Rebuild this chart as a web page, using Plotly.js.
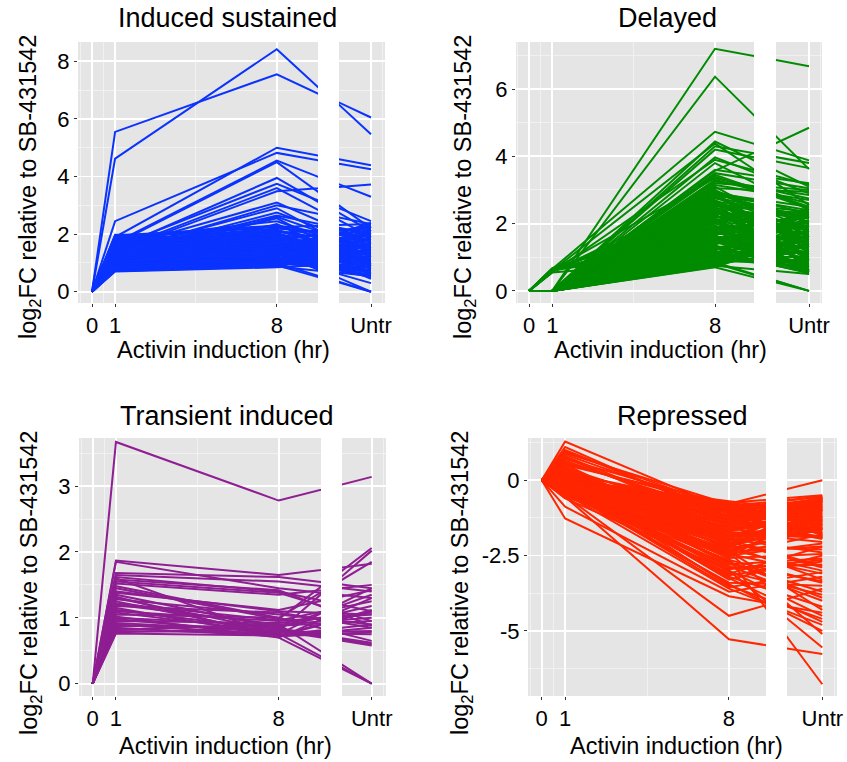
<!DOCTYPE html>
<html>
<head>
<meta charset="utf-8">
<script src="https://cdn.plot.ly/plotly-3.0.1.min.js"></script>
<style>
  html, body { margin: 0; padding: 0; background: #ffffff; }
  #chart { width: 847px; height: 762px; }
</style>
</head>
<body>
<div id="chart"></div>
<script>
// log2 fold change relative to SB-431542 at 0 h (always 0), 1 h, 8 h of Activin, and untreated
const TIME_TICKS = [0, 1, 8];
const TIME_LABELS = ['0', '1', '8'];
const UNTR_X = 12;
const UNTR_LABEL = 'Untr';

// Induced sustained
const sustainedH1 = [
  5.55, 4.62, 2.45, 1.90, 1.70, 1.65, 1.50, 1.55, 1.45, 1.40,
  1.50, 1.35, 1.40, 1.30, 1.25, 1.20, 1.80, 1.00, 1.10, 0.72,
  0.75, 0.78, 0.80, 0.82, 0.85, 0.88, 0.90, 0.92, 0.95, 0.97,
  1.00, 1.02, 1.05, 1.08, 1.10, 1.12, 1.15, 1.18, 1.20, 1.22,
  1.25, 1.28, 1.30, 1.32, 1.35, 1.38, 1.40, 1.42, 1.45, 1.48,
  1.50, 1.52, 1.55, 1.58, 1.60, 1.62, 1.65, 1.70, 1.75, 1.80,
  1.85, 1.90, 1.95, 1.98, 0.70, 0.74, 0.86, 0.94, 1.06, 1.14,
  1.26, 1.34, 1.44, 1.56, 1.64, 1.72, 1.82, 1.92,
  0.76, 0.84, 0.90, 0.98, 1.04, 1.12, 1.16, 1.24, 1.30, 1.36,
  1.46, 1.54, 1.60, 1.68, 1.78, 1.88, 0.80, 0.88, 1.00, 1.10
];
const sustainedH8 = [
  7.55, 8.42, 4.82, 5.00, 4.55, 4.50, 3.95, 3.75, 3.60, 3.49,
  3.10, 3.00, 2.90, 2.75, 2.65, 2.55, 2.45, 2.35, 2.60, 0.88,
  0.92, 0.95, 1.00, 0.90, 1.05, 1.10, 0.98, 1.15, 1.20, 1.00,
  1.25, 1.30, 1.12, 1.35, 1.40, 1.18, 1.45, 1.50, 1.28, 1.55,
  1.60, 1.38, 1.65, 1.70, 1.48, 1.75, 1.58, 1.80, 1.85, 1.62,
  1.90, 1.95, 1.72, 2.00, 2.05, 1.82, 2.10, 2.15, 2.20, 1.92,
  2.25, 2.28, 2.30, 2.05, 0.85, 1.08, 1.22, 1.32, 1.42, 0.96,
  1.16, 1.26, 1.52, 1.36, 1.46, 1.66, 1.76, 1.86,
  1.02, 1.14, 1.24, 1.06, 1.34, 1.44, 1.02, 1.54, 1.20, 1.64,
  1.74, 1.84, 1.28, 1.94, 2.12, 1.40, 1.30, 0.94, 1.70, 2.00
];
const sustainedUntr = [
  6.05, 5.47, 4.25, 4.39, 3.30, 2.20, 2.10, 2.45, 1.90, 3.72,
  1.70, 2.35, 1.20, 1.60, 2.00, 0.90, 1.40, 0.90, 1.50, 0.55,
  0.00, 1.10, 0.70, 1.50, 0.60, 1.90, 0.85, 1.30, 0.50, 0.00,
  1.70, 0.95, 2.10, 1.20, 0.65, 1.45, 2.25, 1.00, 0.75, 1.60,
  1.35, 0.00, 1.85, 1.10, 0.90, 2.30, 1.55, 0.80, 1.25, 2.00,
  1.45, 0.60, 1.75, 1.05, 2.20, 0.45, 1.65, 1.30, 1.90, 1.15,
  2.35, 1.50, 1.80, 0.95, 1.00, 1.40, 0.30, 2.40, 1.05, 1.70,
  0.55, 2.05, 1.20, 0.85, 1.60, 2.15, 0.70, 1.35,
  1.85, 0.75, 2.15, 1.40, 0.55, 1.95, 1.15, 2.30, 0.65, 1.50,
  1.00, 2.10, 1.80, 0.80, 1.25, 2.00, 1.65, 1.20, 0.95, 1.55
];

// Delayed
const delayedH1 = [
  0, 0, 0.65, 0, 0.60, 0, 0, 0.55, 0, 0,
  0, 0.62, 0, 0, 0, 0, 0, 0, 0, 0,
  0, 0, 0, 0, 0, 0, 0, 0, 0, 0,
  0, 0, 0, 0, 0, 0, 0, 0, 0, 0,
  0, 0, 0, 0, 0, 0, 0, 0, 0, 0,
  0, 0, 0, 0, 0, 0, 0, 0, 0, 0,
  0, 0, 0, 0.65, 0.60, 0.68, 0.55, 0.62, 0.66, 0.58,
  0.64, 0, 0, 0, 0, 0, 0, 0, 0, 0,
  0, 0, 0, 0,
  0, 0, 0, 0, 0, 0, 0, 0, 0, 0,
  0, 0, 0, 0, 0, 0, 0, 0, 0, 0,
  0, 0, 0, 0, 0, 0, 0, 0, 0, 0,
  0.60, 0.65, 0.60, 0.58, 0, 0, 0, 0, 0, 0
];
const delayedH8 = [
  7.20, 6.37, 4.73, 4.44, 4.38, 4.30, 3.97, 3.90, 3.57, 3.50,
  3.40, 3.35, 3.30, 3.20, 3.10, 3.05, 0.70, 0.75, 0.80, 0.85,
  0.90, 0.95, 1.00, 1.05, 1.10, 1.15, 1.20, 1.25, 1.30, 1.35,
  1.40, 1.45, 1.50, 1.55, 1.60, 1.65, 1.70, 1.75, 1.80, 1.85,
  1.90, 1.95, 2.00, 2.05, 2.10, 2.15, 2.20, 2.25, 2.30, 2.35,
  2.40, 2.45, 2.50, 2.55, 2.60, 2.65, 2.70, 2.75, 2.80, 2.85,
  2.90, 2.95, 3.00, 1.30, 1.90, 2.20, 0.95, 2.60, 1.60, 2.90,
  1.10, 0.72, 0.78, 0.88, 1.02, 1.18, 1.38, 1.62, 1.88, 2.12,
  2.38, 2.62, 2.88, 0.82,
  0.74, 0.83, 0.93, 1.08, 1.22, 1.33, 1.42, 1.52, 1.58, 1.68,
  1.78, 1.83, 1.93, 2.02, 2.08, 2.18, 2.28, 2.33, 2.43, 2.52,
  2.58, 2.68, 2.78, 2.83, 2.93, 2.98, 1.12, 0.98, 0.86, 1.72,
  2.40, 1.75, 1.45, 2.05, 3.15, 3.25, 3.45, 3.60, 3.80, 4.20
];
const delayedUntr = [
  6.68, 3.62, 3.88, 3.10, 2.55, 3.80, 2.90, 3.15, 4.85, 3.05,
  2.45, 2.75, 2.60, 3.00, 1.60, 2.95, 0.00, 0.50, 1.20, 0.00,
  1.80, 0.70, 2.20, 1.00, 0.55, 1.50, 2.35, 0.85, 1.35, 0.60,
  1.95, 1.10, 2.10, 0.75, 1.60, 0.50, 2.30, 1.25, 0.90, 1.70,
  2.00, 0.65, 1.45, 2.40, 1.05, 0.80, 1.85, 1.30, 2.25, 0.95,
  1.55, 2.15, 1.15, 1.90, 0.70, 2.35, 1.40, 2.05, 1.75, 2.40,
  1.20, 2.30, 1.65, 1.50, 0.90, 2.00, 1.30, 2.20, 0.60, 2.50,
  1.75, 1.55, 2.10, 0.85, 1.60, 0.52, 2.25, 1.05, 0.58, 1.90,
  0.75, 1.35, 2.15, 0.00,
  1.95, 1.40, 2.30, 0.65, 1.80, 0.55, 2.40, 1.25, 0.95, 1.95,
  0.62, 2.20, 1.10, 0.85, 1.70, 2.35, 0.55, 1.50, 1.00, 2.30,
  1.60, 0.90, 2.20, 1.30, 1.85, 0.60, 2.05, 1.15, 1.65, 1.45,
  1.80, 2.25, 0.70, 1.10, 2.70, 2.85, 2.50, 3.20, 2.40, 3.65
];

// Transient induced
const transientH1 = [
  3.67, 1.87, 1.85, 1.68, 1.62, 1.55, 1.52, 1.48, 1.45, 1.40,
  1.35, 1.30, 1.28, 1.25, 1.20, 1.18, 1.15, 1.12, 1.10, 1.08,
  1.05, 1.02, 1.00, 0.98, 0.95, 0.92, 0.90, 0.88, 0.85, 0.82,
  0.80, 0.78, 0.76, 1.32, 1.65, 1.58, 1.38, 1.22, 1.60
];
const transientH8 = [
  2.78, 1.65, 1.45, 1.62, 1.40, 1.38, 1.35, 1.00, 0.98, 1.10,
  0.85, 0.80, 1.05, 0.75, 0.90, 1.08, 0.72, 0.82, 0.95, 0.78,
  1.00, 0.70, 0.88, 0.76, 0.92, 0.80, 0.74, 0.86, 0.72, 0.90,
  0.78, 0.84, 0.73, 0.70, 1.55, 1.42, 1.12, 0.96, 0.72
];
const transientUntr = [
  3.14, 1.82, 1.30, 1.45, 1.10, 0.95, 1.50, 1.85, 2.06, 1.05,
  1.35, 2.02, 0.90, 1.45, 0.00, 0.85, 1.10, 0.60, 1.05, 0.80,
  0.65, 1.30, 0.95, 0.00, 1.08, 0.58, 0.90, 1.18, 0.85, 1.00,
  0.75, 0.62, 1.12, 0.00, 1.40, 0.88, 1.42, 1.25, 0.78
];

// Repressed
const repressedH1 = [
  1.28, 1.00, 0.90, 0.75, 0.55, 0.50, 0.30, 0.00, 0.00, 0.00,
  -0.10, -0.15, -0.20, -0.25, -0.30, -0.35, -0.40, -0.45, -0.50, -0.52,
  -0.88, -1.27, -0.55, -0.52, -0.05, -0.20, -0.10, 0.00, -0.30, -0.15,
  -0.40, 0.10, -0.25, -0.05, 0.20, -0.35, -0.45, 0.00, -0.20, -0.10,
  0.40, -0.05, -0.12, -0.18, -0.22, -0.28, -0.32, -0.38, -0.42, -0.48,
  0.00, 0.00, 0.00, 0.00, 0.00, 0.00, -0.08, -0.16, -0.24, -0.33,
  -0.44, 0.05, 0.15, 0.25, 0.60, 0.80, 0.95, 0.35, -0.50, -0.30,
  -0.15, 0.00, -0.60, -0.45, -0.25,
  -0.02, -0.06, -0.10, -0.14, -0.18, -0.22, -0.26, -0.30, -0.34, -0.38,
  -0.42, -0.46, -0.50, 0.04, 0.08, 0.12, 0.18, 0.22, 0.28, 0.32,
  0.38, 0.45, 0.52, 0.65, 0.70, 0.85, 1.10, 0.00, 0.00, 0.00,
  0.00, 0.00, -0.50, -0.52, -0.48, -0.55, -0.20, -0.10, -0.35, 0.00,
  -0.25, -0.40, -0.15, -0.05, -0.30
];
const repressedH8 = [
  -1.00, -1.20, -0.80, -1.50, -0.90, -0.78, -1.10, -1.30, -1.60, -2.00,
  -0.85, -1.05, -1.40, -1.80, -2.20, -1.25, -2.50, -1.70, -2.80, -1.90,
  -3.70, -3.85, -5.28, -4.50, -2.60, -3.00, -2.40, -3.50, -3.20, -2.70,
  -3.40, -2.30, -2.90, -1.95, -2.15, -3.10, -3.60, -2.75, -2.05, -3.30,
  -1.35, -0.75, -0.95, -1.15, -1.45, -1.65, -1.85, -2.10, -2.35, -2.55,
  -0.70, -0.95, -1.20, -1.45, -1.75, -2.25, -1.00, -1.55, -2.00, -2.45,
  -0.90, -1.28, -1.62, -0.88, -1.10, -1.40, -0.95, -1.85, -2.65, -2.85,
  -3.15, -2.45, -3.00, -2.20, -3.45,
  -0.80, -0.88, -1.02, -1.18, -1.32, -1.48, -1.60, -1.72, -1.88, -2.02,
  -2.18, -2.30, -2.42, -0.72, -0.92, -1.08, -1.22, -1.38, -1.52, -1.68,
  -1.80, -1.95, -2.10, -1.25, -0.85, -1.05, -1.30, -1.05, -1.35, -1.65,
  -1.90, -2.15, -1.05, -1.35, -1.62, -2.38, -2.58, -2.78, -2.95, -3.05,
  -2.35, -1.98, -3.25, -1.75, -3.55
];
const repressedUntr = [
  -1.20, -0.90, -1.50, -0.70, -1.80, 0.00, -1.00, -0.60, -1.40, -1.10,
  -0.55, -1.65, -0.80, -1.90, -1.30, -0.65, -2.10, -1.00, -2.60, -0.75,
  -3.20, -4.40, -5.77, -3.60, -6.77, -5.55, -5.10, -4.60, -4.20, -3.90,
  -3.50, -3.00, -2.80, -2.40, -3.30, -2.20, -4.80, -3.70, -2.90, -2.50,
  -1.75, -0.50, -1.35, -0.70, -1.55, -0.95, -1.85, -1.20, -1.60, -0.85,
  -1.05, -1.70, -0.58, -1.25, -1.90, -0.80, -1.45, -0.62, -1.15, -1.80,
  -1.00, -1.95, -0.72, -1.30, -0.88, -1.62, -0.52, -1.40, -3.40, -4.00,
  -2.70, -3.10, -4.50, -2.30, -5.00,
  -0.95, -1.50, -0.60, -1.75, -1.05, -0.55, -1.30, -1.85, -0.90, -1.45,
  -0.68, -1.60, -1.20, -1.38, -0.78, -1.92, -1.12, -0.62, -1.58, -0.98,
  -1.70, -0.82, -1.48, -1.10, -1.82, -0.66, -1.28, -1.62, -0.92, -1.35,
  -0.70, -1.55, -1.22, -0.60, -1.88, -2.20, -2.45, -3.35, -2.65, -3.80,
  -4.30, -2.85, -4.70, -2.05, -3.05
];

const FONT = '"Liberation Sans", Arial, Helvetica, sans-serif';
const W = 847, H = 762;

// Panel geometry in pixels: main time axis, separate untreated strip, plot height
const panels = [
  { title: 'Induced sustained', color: '#0A33FF',
    h1: sustainedH1, h8: sustainedH8, untr: sustainedUntr,
    main: [78, 318], strip: [339, 385], top: 42, bottom: 303,
    px0: 92, pxPerHr: 23.1, pxUntr: 371,
    yrange: [-0.39, 8.67], yticks: [0, 2, 4, 6, 8], ylabels: ['0', '2', '4', '6', '8'], yminor: [1, 3, 5, 7],
    titleX: 227, titleY: 18, xTitleX: 223, xTitleY: 350, yTitleX: 30, yTitleY: 187 },
  { title: 'Delayed', color: '#008B00',
    h1: delayedH1, h8: delayedH8, untr: delayedUntr,
    main: [516, 754], strip: [776, 822], top: 42, bottom: 303,
    px0: 529, pxPerHr: 23.25, pxUntr: 809,
    yrange: [-0.36, 7.40], yticks: [0, 2, 4, 6], ylabels: ['0', '2', '4', '6'], yminor: [1, 3, 5, 7],
    titleX: 667, titleY: 18, xTitleX: 660, xTitleY: 350, yTitleX: 465, yTitleY: 187 },
  { title: 'Transient induced', color: '#8E1E92',
    h1: transientH1, h8: transientH8, untr: transientUntr,
    main: [79, 321], strip: [342, 386], top: 438, bottom: 696,
    px0: 92.7, pxPerHr: 23.25, pxUntr: 371.7,
    yrange: [-0.187, 3.73], yticks: [0, 1, 2, 3], ylabels: ['0', '1', '2', '3'], yminor: [0.5, 1.5, 2.5, 3.5],
    titleX: 227, titleY: 416, xTitleX: 225, xTitleY: 746, yTitleX: 30, yTitleY: 583 },
  { title: 'Repressed', color: '#FF2600',
    h1: repressedH1, h8: repressedH8, untr: repressedUntr,
    main: [528, 766], strip: [787, 837], top: 438, bottom: 696,
    px0: 541.7, pxPerHr: 23.41, pxUntr: 822.3,
    yrange: [-7.16, 1.40], yticks: [0, -2.5, -5], ylabels: ['0', '-2.5', '-5'], yminor: [1.25, -1.25, -3.75, -6.25],
    titleX: 682, titleY: 416, xTitleX: 676, xTitleY: 746, yTitleX: 461, yTitleY: 583 }
];

const traces = [];
const layout = {
  width: W, height: H,
  margin: { l: 0, r: 0, t: 0, b: 0 },
  paper_bgcolor: '#ffffff',
  plot_bgcolor: '#E5E5E5',
  showlegend: false,
  font: { family: FONT, color: '#000000' },
  annotations: []
};

const tickStyle = { ticks: 'outside', ticklen: 3, tickwidth: 1, tickcolor: '#333333',
  showline: false, zeroline: false, gridcolor: '#FFFFFF', gridwidth: 1.8,
  tickfont: { family: FONT, size: 22, color: '#000000' } };

panels.forEach((p, i) => {
  const xa = 'x' + (2 * i + 1 === 1 ? '' : 2 * i + 1);
  const xb = 'x' + (2 * i + 2);
  const ya = 'y' + (i === 0 ? '' : i + 1);
  const xaName = 'xaxis' + (2 * i + 1 === 1 ? '' : 2 * i + 1);
  const xbName = 'xaxis' + (2 * i + 2);
  const yaName = 'yaxis' + (i === 0 ? '' : i + 1);

  // one polyline per gene, separated by gaps
  const xs = [], ys = [];
  for (let g = 0; g < p.h1.length; g++) {
    xs.push(TIME_TICKS[0], TIME_TICKS[1], TIME_TICKS[2], UNTR_X, null);
    ys.push(0, p.h1[g], p.h8[g], p.untr[g], null);
  }
  const line = { color: p.color, width: 2 };
  traces.push({ type: 'scatter', mode: 'lines', x: xs, y: ys, xaxis: xa, yaxis: ya, line: line, hoverinfo: 'skip', connectgaps: false });
  traces.push({ type: 'scatter', mode: 'lines', x: xs, y: ys, xaxis: xb, yaxis: ya, line: line, hoverinfo: 'skip', connectgaps: false });

  const mainRange = [(p.main[0] - p.px0) / p.pxPerHr, (p.main[1] - p.px0) / p.pxPerHr];
  const stripRange = [UNTR_X - (p.pxUntr - p.strip[0]) / p.pxPerHr, UNTR_X + (p.strip[1] - p.pxUntr) / p.pxPerHr];
  const yDomain = [1 - p.bottom / H, 1 - p.top / H];

  layout[xaName] = Object.assign({}, tickStyle, {
    domain: [p.main[0] / W, p.main[1] / W], range: mainRange, anchor: ya,
    tickmode: 'array', tickvals: TIME_TICKS, ticktext: TIME_LABELS,
    minor: { tickmode: 'array', tickvals: [-0.5, 0.5, 4.5], showgrid: true, gridcolor: '#F2F2F2', gridwidth: 0.9, ticks: '' }
  });
  layout[xbName] = Object.assign({}, tickStyle, {
    domain: [p.strip[0] / W, p.strip[1] / W], range: stripRange, anchor: ya,
    tickmode: 'array', tickvals: [UNTR_X], ticktext: [UNTR_LABEL],
    minor: { tickmode: 'array', tickvals: [12.5], showgrid: true, gridcolor: '#F2F2F2', gridwidth: 0.9, ticks: '' }
  });
  layout[yaName] = Object.assign({}, tickStyle, {
    domain: yDomain, range: p.yrange, anchor: xa,
    tickmode: 'array', tickvals: p.yticks, ticktext: p.ylabels,
    minor: { tickmode: 'array', tickvals: p.yminor, showgrid: true, gridcolor: '#F2F2F2', gridwidth: 0.9, ticks: '' }
  });

  layout.annotations.push({
    text: p.title, xref: 'paper', yref: 'paper', x: p.titleX / W, y: 1 - p.titleY / H,
    xanchor: 'center', yanchor: 'middle', showarrow: false,
    font: { family: FONT, size: 27, color: '#000000' }
  });
  layout.annotations.push({
    text: 'Activin induction (hr)', xref: 'paper', yref: 'paper', x: p.xTitleX / W, y: 1 - p.xTitleY / H,
    xanchor: 'center', yanchor: 'middle', showarrow: false,
    font: { family: FONT, size: 23.5, color: '#000000' }
  });
  layout.annotations.push({
    text: 'log<sub>2</sub>FC relative to SB-431542', xref: 'paper', yref: 'paper',
    x: p.yTitleX / W, y: 1 - p.yTitleY / H, textangle: -90,
    xanchor: 'center', yanchor: 'middle', showarrow: false,
    font: { family: FONT, size: 23.5, color: '#000000' }
  });
});

Plotly.newPlot('chart', traces, layout, { staticPlot: true, displayModeBar: false });
</script>
</body>
</html>
